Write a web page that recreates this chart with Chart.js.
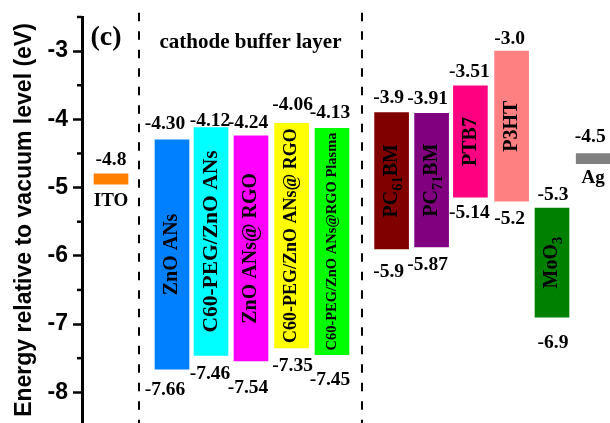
<!DOCTYPE html>
<html lang="en">
<head>
<meta charset="UTF-8">
<title>Energy level diagram</title>
<script src="https://cdn.jsdelivr.net/npm/chart.js"></script>
<style>
  body { margin: 0; background: #fff; }
</style>
</head>
<body>
<canvas id="levelChart" width="610" height="423"></canvas>
<script>
// energy levels (eV): upper = LUMO / work function, lower = HOMO (null for electrodes)
const layers = ['ITO', 'ZnO ANs', 'C60-PEG/ZnO ANs', 'ZnO ANs@ RGO', 'C60-PEG/ZnO ANs@ RGO',
  'C60-PEG/ZnO ANs@RGO Plasma', 'PC_{61}BM', 'PC_{71}BM', 'PTB7', 'P3HT', 'MoO_{3}', 'Ag'];
const upperLevel = [-4.8, -4.30, -4.12, -4.24, -4.06, -4.13, -3.9, -3.91, -3.51, -3.0, -5.3, -4.5];
const lowerLevel = [null, -7.66, -7.46, -7.54, -7.35, -7.45, -5.9, -5.87, -5.14, -5.2, -6.9, null];
const upperText = ['-4.8', '-4.30', '-4.12', '-4.24', '-4.06', '-4.13', '-3.9', '-3.91', '-3.51', '-3.0', '-5.3', '-4.5'];
const lowerText = [null, '-7.66', '-7.46', '-7.54', '-7.35', '-7.45', '-5.9', '-5.87', '-5.14', '-5.2', '-6.9', null];
const groupTitle = 'cathode buffer layer';
const panelTag = '(c)';

// layout / style
const slots = [0.725, 2.25, 3.225, 4.225, 5.24, 6.25, 7.74, 8.74, 9.71, 10.74, 11.75, 12.78];
const dividers = [1.425, 7.0];
const barColors = ['#ff8000', '#0080ff', '#00ffff', '#ff00ff', '#ffff00', '#00ff00',
  '#800000', '#800080', '#ff0080', '#ff8080', '#008000', '#808080'];
const nameSize = [19, 20, 21.5, 20, 18, 14.5, 20, 20, 20, 20, 20, 19];
const topGap = [14, 16, 7, 13, 18, 15, 15, 14, 14, 12, 13, 17];
const bottomGap = [17, 21, 19, 27, 18, 25, 23, 18, 16, 18, 26, 14];
const labelShift = [0, -7, -1, -3, 1, -2, -3, -4, -1, -2, 1, -3];
const electrodeThickness = 0.15;

const serif = "'Liberation Serif', 'Times New Roman', serif";
const sans = "'Liberation Sans', Arial, sans-serif";

function drawRich(ctx, str, size) {
  const parts = [];
  str.replace(/_\{([^}]*)\}|([^_]+)/g, (m, sub, txt) => {
    parts.push(sub !== undefined ? { t: sub, sub: true } : { t: txt, sub: false });
  });
  const main = 'bold ' + size + 'px ' + serif;
  const small = 'bold ' + (size * 0.72) + 'px ' + serif;
  let total = 0;
  parts.forEach(p => { ctx.font = p.sub ? small : main; p.w = ctx.measureText(p.t).width; total += p.w; });
  let cx = -total / 2;
  ctx.textAlign = 'left';
  ctx.textBaseline = 'middle';
  parts.forEach(p => {
    ctx.font = p.sub ? small : main;
    ctx.fillText(p.t, cx, p.sub ? size * 0.32 : 0);
    cx += p.w;
  });
}

const annotations = {
  id: 'annotations',
  afterDatasetsDraw(chart) {
    const ctx = chart.ctx;
    const xs = chart.scales.x, ys = chart.scales.y;
    const bars = chart.getDatasetMeta(0).data;
    ctx.save();
    ctx.fillStyle = '#000';

    // dashed dividers
    ctx.strokeStyle = '#000';
    ctx.lineWidth = 2;
    ctx.setLineDash([8.5, 10]);
    dividers.forEach(d => {
      const px = xs.getPixelForValue(d);
      ctx.beginPath();
      ctx.moveTo(px, 12.7);
      ctx.lineTo(px, chart.height);
      ctx.stroke();
    });
    ctx.setLineDash([]);

    layers.forEach((name, i) => {
      const x = bars[i].x;
      const yTop = ys.getPixelForValue(upperLevel[i]);
      const yBot = lowerLevel[i] === null
        ? ys.getPixelForValue(upperLevel[i] - electrodeThickness)
        : ys.getPixelForValue(lowerLevel[i]);
      ctx.font = 'bold 19.5px ' + serif;
      ctx.textAlign = 'center';
      ctx.textBaseline = 'middle';
      ctx.fillText(upperText[i], x + labelShift[i], yTop - topGap[i]);
      if (lowerLevel[i] === null) {
        ctx.save();
        ctx.translate(x, yBot + bottomGap[i]);
        drawRich(ctx, name, nameSize[i]);
        ctx.restore();
      } else {
        ctx.fillText(lowerText[i], x + labelShift[i], yBot + bottomGap[i]);
        ctx.save();
        ctx.translate(x, (yTop + yBot) / 2);
        ctx.rotate(-Math.PI / 2);
        drawRich(ctx, name, nameSize[i]);
        ctx.restore();
      }
    });

    // group title and panel tag
    ctx.textAlign = 'center';
    ctx.textBaseline = 'middle';
    ctx.font = 'bold 21px ' + serif;
    ctx.fillText(groupTitle, (xs.getPixelForValue(dividers[0]) + xs.getPixelForValue(dividers[1])) / 2, ys.getPixelForValue(-2.87));
    ctx.font = 'bold 28px ' + serif;
    ctx.fillText(panelTag, xs.getPixelForValue(0.6), ys.getPixelForValue(-2.8));
    ctx.restore();
  },
  afterDraw(chart) {
    // short minor ticks at half steps
    const ys = chart.scales.y;
    const ctx = chart.ctx;
    ctx.save();
    ctx.strokeStyle = '#000';
    ctx.lineWidth = 2.5;
    for (let v = -8.5; v <= -2.5; v += 1) {
      const py = ys.getPixelForValue(v);
      if (py > chart.height) continue;
      ctx.beginPath();
      ctx.moveTo(ys.right - 5, py);
      ctx.lineTo(ys.right, py);
      ctx.stroke();
    }
    ctx.restore();
  }
};

const isWhole = v => Math.abs(v - Math.round(v)) < 1e-6;

new Chart(document.getElementById('levelChart').getContext('2d'), {
  type: 'bar',
  data: {
    datasets: [{
      data: layers.map((_, i) => ({
        x: slots[i],
        y: lowerLevel[i] === null
          ? [upperLevel[i], upperLevel[i] - electrodeThickness]
          : [upperLevel[i], lowerLevel[i]]
      })),
      backgroundColor: barColors,
      borderWidth: 0,
      barThickness: 34
    }]
  },
  options: {
    responsive: false,
    animation: false,
    layout: { padding: { top: 17, left: 0, right: 0, bottom: 0 } },
    plugins: { legend: { display: false }, tooltip: { enabled: false } },
    scales: {
      x: { type: 'linear', display: false, offset: false, min: 0, max: 13.2 },
      y: {
        min: -8.45,
        max: -2.5,
        afterFit: s => { s.width = 82; s.paddingTop = 0; s.paddingBottom = 0; },
        ticks: {
          stepSize: 0.5,
          padding: 5,
          color: '#000',
          font: { family: sans, size: 23, weight: 'bold' },
          callback: v => isWhole(v) ? String(Math.round(v)) : ''
        },
        grid: {
          drawOnChartArea: false,
          tickLength: 9,
          tickWidth: 2.5,
          tickColor: c => (c.tick && isWhole(c.tick.value)) ? '#000' : 'rgba(0,0,0,0)'
        },
        border: { color: '#000', width: 3 },
        title: {
          display: true,
          text: 'Energy relative to vacuum level (eV)',
          color: '#000',
          font: { family: sans, size: 23, weight: 'bold' },
          padding: { top: 11, bottom: 0 }
        }
      }
    }
  },
  plugins: [annotations]
});
</script>
</body>
</html>
